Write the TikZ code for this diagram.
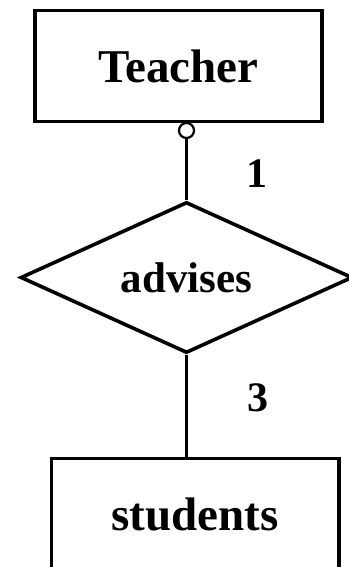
\documentclass[tikz,border=0pt]{standalone}
\usepackage{fontspec}
\setmainfont{Liberation Serif}
\usepackage{tikz}
\usetikzlibrary{shapes.geometric}
\usetikzlibrary{positioning}
\tikzset{
  Entitaet/.style={draw,rectangle,line width=3.7pt,minimum width=287pt,minimum height=111pt,
    inner sep=0pt,font=\fontsize{47}{47}\selectfont\bfseries}, % für Entitäten
  Beziehung/.style={draw,diamond,aspect=2.2,line width=3.6pt,minimum width=332pt,minimum height=151pt,
    inner sep=0pt,font=\fontsize{43}{43}\selectfont\bfseries}, % für Beziehungen
  Kard/.style={font=\fontsize{42}{42}\selectfont\bfseries}, % für Kardinalitäten
  Ring/.style={draw,circle,fill=white,line width=2.2pt,minimum size=15pt,inner sep=0pt}, % optionale Teilnahme
  Linie/.style={line width=3.4pt}
}

\begin{document}
\begin{tikzpicture}[x=1pt,y=-1pt]
\useasboundingbox (0,0) rectangle (348,567);

%Entitaeten und Beziehung
\node[Entitaet] (Teacher) at (178.5,66) {Teacher};
\node[Beziehung] (advises) at (186.5,277.5) {advises};
\node[Entitaet,minimum width=287.5pt] (students) at (195.25,514) {students};

%Teilnahme
\node[Ring] (opt) at (186.5,130.5) {};

%Linien
\draw[Linie] (opt) -- (advises.north);
\draw[Linie] (advises.south) -- (advises.south |- students.north);

%Kardinalitaeten
\node[Kard] (k1) at (256.5,174) {1};
\node[Kard] (k3) at (257.5,397.5) {3};

\end{tikzpicture}
\end{document}
